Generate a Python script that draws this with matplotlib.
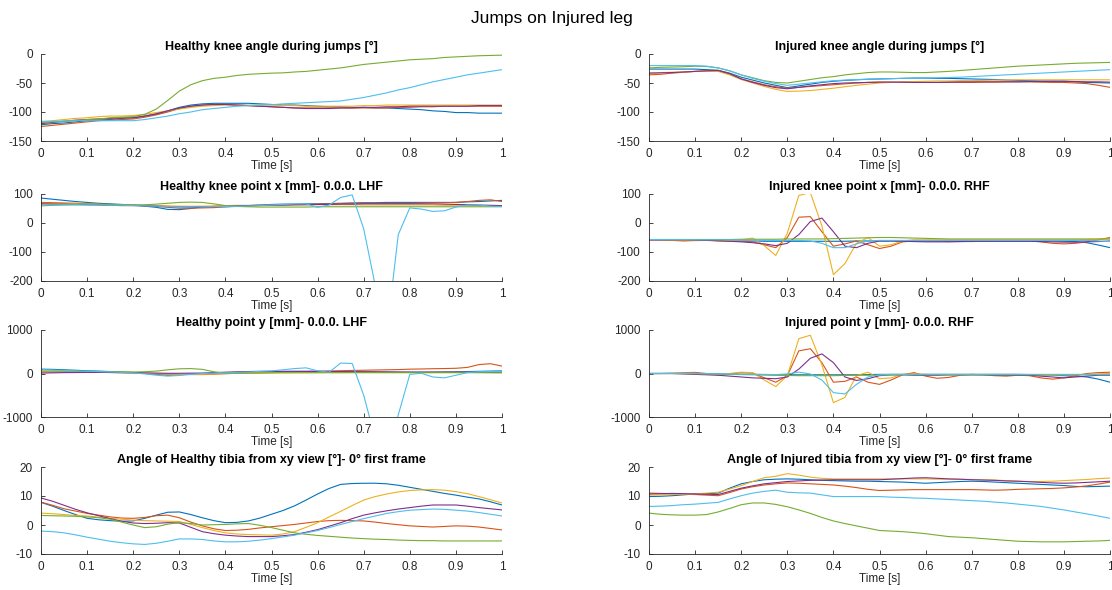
import numpy as np
import matplotlib
matplotlib.use("Agg")
import matplotlib.pyplot as plt

plt.rcParams['font.family'] = ['Liberation Sans', 'DejaVu Sans']
plt.rcParams['axes.unicode_minus'] = False

t = np.linspace(0, 1, 41)

colors = ['#0072BD', '#D95319', '#EDB120', '#7E2F8E', '#77AC30', '#4DBEEE']

# ---- Panel 1: Healthy knee angle ----
hk_blue = [-122,-120,-119,-117,-115,-114,-113,-111,-110,-107,
           -104,-98,-92,-88,-86,-85,-85,-85,-85,-86,
           -87,-88,-88,-89,-90,-91,-91,-92,-92,-93,
           -93,-94,-95,-96,-98,-99,-101,-101,-102,-102,-102]
hk_orange = [-125,-123,-121,-119,-117,-115,-114,-113,-112,-109,
             -105,-100,-94,-90,-88,-87,-87,-88,-89,-90,
             -91,-92,-93,-93,-93,-93,-93,-93,-93,-93,
             -93,-92,-92,-91,-91,-90,-90,-90,-90,-90,-90]
hk_yellow = [-117,-115,-113,-111,-110,-108,-107,-107,-106,-104,
             -101,-98,-95,-92,-90,-89,-88,-88,-88,-88,
             -88,-89,-89,-90,-90,-90,-90,-90,-89,-89,
             -88,-88,-88,-88,-88,-88,-88,-88,-88,-88,-88]
hk_purple = [-120,-118,-116,-114,-113,-112,-111,-110,-110,-107,
             -103,-98,-93,-90,-88,-87,-87,-88,-89,-90,
             -91,-92,-93,-94,-94,-94,-93,-93,-92,-92,
             -91,-91,-90,-90,-90,-90,-90,-90,-89,-89,-89]
hk_green = [-118,-117,-116,-115,-113,-112,-110,-109,-108,-104,
            -95,-80,-64,-53,-46,-42,-40,-37,-35,-34,
            -33,-32.5,-31,-30,-28,-26,-24,-21,-18,-16,
            -14,-12,-10,-9,-8,-6,-5,-4,-3,-2.5,-2]
hk_cyan = [-116,-116,-115.5,-115,-115,-115,-115,-115,-115,-113,
           -110,-107,-103,-100,-96,-94,-92,-90,-89,-88,
           -87.5,-86,-85,-84,-83,-82,-81,-78,-75,-71,
           -67,-62,-58,-53,-48,-44,-40,-36,-33,-30,-27]

# ---- Panel 2: Injured knee angle ----
ik_blue = [-26,-26,-26,-26,-26,-27,-28,-33,-40,-45,
           -50,-54,-58,-55,-52,-49,-47,-45.5,-44.5,-43.5,
           -43,-42.5,-42,-41.5,-41.5,-42,-42,-42.5,-43,-43.5,
           -44,-45,-45.5,-46,-46.5,-47,-47,-48,-49,-49.5,-50]
ik_orange = [-36,-35,-33,-31.5,-30,-29,-28.5,-34,-43,-48,
             -53,-56.5,-59,-57.5,-56,-54.5,-53,-51.5,-50,-49,
             -48.5,-48.5,-49,-49,-49,-49,-49,-49,-49,-48.5,
             -48.5,-48,-48,-48,-48.5,-49,-49,-50,-51,-54,-57.5]
ik_yellow = [-33,-32,-31.5,-31,-30,-29.5,-30,-36,-44,-50,
             -56,-61,-64.5,-64,-63,-61,-59,-56.5,-54,-52,
             -50,-49,-48,-47.5,-47,-46.5,-46.5,-46,-46,-45.5,
             -45,-45,-44.5,-44.5,-44.5,-44.5,-44.5,-44.5,-44.5,-44.5,-44.5]
ik_purple = [-33,-32.5,-32,-31,-30,-29,-28.5,-34,-43,-49,
             -54,-58,-60,-57.5,-55,-53,-51,-50,-49.5,-49,
             -48.5,-48.5,-48.5,-49,-49,-49,-48.5,-48,-48,-48,
             -48,-48,-48,-47.5,-47.5,-47,-47,-47.5,-48,-48,-48.5]
ik_green = [-24,-23,-22.5,-22,-21,-21.5,-24,-29,-36,-41,
            -46,-49,-50,-47,-44,-41,-39,-36,-34,-32,
            -31,-31,-31.5,-32,-32,-31,-30,-28.5,-27,-25.5,
            -24,-22.5,-21,-20,-19,-18,-17,-16,-15.5,-15,-14.5]
ik_cyan = [-20,-20,-20,-20,-20,-21,-24,-29,-36,-42,
           -47,-51,-54,-52,-50,-48,-46,-45,-44,-43.5,
           -43,-42.5,-42,-42,-41.5,-41,-40.5,-40,-39,-38,
           -37,-36,-35,-34,-33,-32,-31,-30,-29,-28,-27]

# ---- Panel 3: Healthy knee point x ----
hx_blue = [86,82,78,74,71,68,66,64,62,58,
           54,47,46,50,56,56,56,58,60,62,
           64,65,65,66,66,67,68,69,70,70,
           71,71,71,71,71,71,71,73,74,76,78]
hx_orange = [71,70,69,68,66,65,64,63,62,60,
             57,54,51,51,52,53,56,57,58,60,
             61,62,63,64,65,66,67,68,68,68,
             68,68,68,69,70,70,71,74,78,80,74]
hx_yellow = [68,67,67,66,65,64,63,62,62,61,
             60,59,58,58,58,59,60,61,61,62,
             62,63,63,63,63,63,63,63,62,62,
             62,62,62,62,62,61,61,61,60,60,60]
hx_purple = [66,65,65,64,63,62,61,60,60,59,
             58,57,56,55,56,57,58,59,60,61,
             62,62,63,63,64,64,65,65,66,66,
             66,66,66,66,66,65,64,63,62,61,60]
hx_green = [59,61,63,64,65,65,64,63,62,63,
            65,68,71,72,71,66,60,57,56,55,
            55,55,55,55,56,56,56,56,56,56,
            56,56,56,56,56,56,56,56,56,56,56]
hx_cyan = [62,62,62,62,62,62,61,61,60,59,
           58,57,56,56,56,57,57,58,59,60,
           62,64,66,66,54,62,88,97,-20,-215,
           -380,-40,52,48,40,42,55,62,62,58,57]

# ---- Panel 4: Injured knee point x ----
ix_blue = [-58,-58,-58,-59,-59,-60,-60,-61,-62,-62,
           -63,-63,-63,-63,-63,-63,-63,-63,-62,-62,
           -62,-62,-62,-62,-62,-62,-62,-62,-62,-62,
           -62,-62,-62,-62,-62,-62,-63,-64,-68,-76,-85]
ix_orange = [-58,-58,-60,-62,-60,-58,-62,-63,-62,-65,
             -75,-85,-50,20,22,-30,-80,-72,-62,-75,
             -88,-80,-65,-62,-62,-63,-64,-64,-64,-63,
             -62,-62,-62,-62,-65,-70,-72,-70,-65,-58,-50]
ix_yellow = [-58,-58,-59,-60,-61,-60,-62,-60,-58,-52,
             -78,-112,-35,95,105,-10,-178,-140,-70,-50,
             -80,-75,-62,-58,-58,-58,-58,-58,-58,-58,
             -58,-58,-58,-58,-58,-58,-58,-58,-57,-56,-55]
ix_purple = [-58,-58,-58,-58,-59,-60,-61,-63,-65,-68,
             -72,-78,-70,-40,5,17,-30,-80,-85,-70,
             -62,-62,-63,-64,-65,-65,-65,-64,-63,-63,
             -63,-63,-63,-63,-64,-65,-66,-66,-65,-64,-62]
ix_green = [-57,-57,-57,-57,-57,-57,-57,-57,-56,-56,
            -56,-56,-55,-55,-55,-55,-54,-53,-52,-51,
            -50,-50,-51,-52,-53,-54,-55,-55,-55,-55,
            -55,-55,-55,-55,-55,-55,-55,-55,-55,-55,-55]
ix_cyan = [-57,-57,-57,-57,-58,-58,-58,-58,-59,-59,
           -60,-60,-60,-60,-62,-70,-85,-85,-72,-62,
           -60,-60,-60,-60,-60,-60,-60,-60,-60,-60,
           -60,-60,-60,-60,-60,-60,-60,-60,-60,-62,-64]

# ---- Panel 5: Healthy point y ----
hy_blue = [100,95,85,75,62,55,45,35,25,5,
           -20,-40,-30,-15,-5,5,10,20,30,35,
           40,45,48,50,50,48,45,42,40,38,
           35,32,30,30,32,35,40,45,50,55,60]
hy_orange = [38,36,34,32,30,26,22,16,10,2,
             -8,-16,-20,-24,-25,-15,-5,5,12,16,
             20,28,36,45,53,58,64,70,75,80,
             85,90,100,104,110,114,120,140,205,225,170]
hy_yellow = [40,38,36,34,32,28,24,18,12,5,
             -5,-12,-18,-22,-20,-10,0,8,12,15,
             18,20,22,22,24,25,25,26,26,26,
             26,26,26,26,26,26,26,28,28,28,28]
hy_purple = [10,15,20,22,25,25,24,22,20,15,
             10,5,5,8,10,20,30,40,45,50,
             50,50,50,48,46,44,42,40,38,36,
             34,32,30,30,30,30,30,28,25,22,20]
hy_green = [60,58,55,52,48,45,42,38,35,40,
            55,85,108,113,95,40,5,5,10,12,
            15,15,15,16,16,17,17,18,18,18,
            18,18,18,18,18,18,18,18,18,18,18]
hy_cyan = [90,80,70,60,53,45,35,25,15,-10,
           -38,-60,-45,-20,0,8,15,25,35,48,
           60,85,113,130,60,30,240,230,-500,-1500,
           -2000,-950,-20,5,-80,-100,-40,20,40,45,50]

# ---- Panel 6: Injured point y ----
iy_blue = [0,0,0,0,-5,-10,-10,-15,-20,-20,
           -25,-30,-30,-30,-30,-30,-30,-30,-30,-25,
           -20,-20,-20,-20,-20,-20,-20,-20,-20,-20,
           -20,-20,-20,-25,-30,-40,-50,-60,-80,-130,-200]
iy_orange = [0,0,5,20,25,0,-30,-10,20,10,
             -100,-200,-50,520,570,250,-200,-180,-80,-200,
             -250,-150,-30,20,-60,-110,-90,-40,-20,-30,
             -50,-60,-40,-50,-100,-130,-100,-50,0,20,30]
iy_yellow = [0,0,5,10,5,-20,-30,0,30,20,
             -150,-300,-50,800,880,200,-670,-550,-50,30,
             -120,-100,-20,-10,-20,-30,-30,-30,-30,-30,
             -30,-30,-30,-40,-50,-40,-30,-30,-20,-10,0]
iy_purple = [0,0,0,-10,-20,-30,-40,-60,-80,-100,
             -110,-120,-80,100,350,450,250,-80,-160,-120,
             -50,-30,-30,-40,-40,-40,-30,-30,-30,-30,
             -40,-40,-40,-40,-60,-80,-100,-80,-60,-40,-40]
iy_green = [0,0,0,0,-5,-10,-15,-20,-25,-30,
            -35,-40,-45,-50,-50,-50,-50,-45,-40,-40,
            -35,-35,-30,-30,-30,-30,-30,-30,-30,-30,
            -30,-30,-30,-30,-30,-30,-30,-30,-30,-30,-30]
iy_cyan = [0,0,0,0,0,-5,-10,-10,-15,-20,
           -20,-25,-10,30,-10,-150,-440,-470,-250,-80,
           -30,-20,-20,-20,-20,-20,-20,-20,-20,-20,
           -20,-20,-20,-20,-20,-20,-20,-20,-20,-20,-20]

# ---- Panel 7: Healthy tibia angle ----
ht_blue = [7.8,6.5,5,3.6,2.3,1.8,1.5,1.3,1.4,2.3,
           3.4,4.4,4.5,3.6,2.5,1.5,0.8,0.9,1.4,2.4,
           3.7,5,6.6,8.6,10.7,12.6,14,14.3,14.4,14.4,
           14.2,13.7,13,12.3,11.6,10.9,10.3,9.6,9,8,6.9]
ht_orange = [7.9,6.8,5.6,4.8,4,3.4,2.8,2.4,2.3,2.6,
             3.2,3.4,2.5,1,-0.3,-1.3,-1.9,-1.8,-1.5,-1,
             -0.6,-0.2,0.2,0.7,1.2,1.5,1.6,1.5,1.4,1,
             0.5,0.1,-0.3,-0.5,-0.7,-0.5,-0.3,-0.4,-0.7,-1.2,-1.7]
ht_yellow = [4.1,3.9,3.6,3.3,3.1,2.7,2.3,2,1.7,1.5,
             1.4,1.3,1.2,0.2,-0.9,-1.9,-2.7,-3.1,-3.3,-3.4,
             -3.5,-3.1,-2.3,-0.8,0.8,2.8,4.7,6.7,8.6,9.8,
             10.7,11.4,11.9,12.1,12.2,12,11.5,10.8,9.8,8.7,7.6]
ht_purple = [9.3,8.2,6.8,5.4,4.2,3.2,2.2,1.3,0.7,0.5,
             0.6,0.8,0.7,-0.8,-2.3,-3,-3.5,-3.8,-4,-4,
             -4,-3.7,-3.3,-2.5,-1.6,-0.4,0.8,2.2,3.4,4.2,
             4.9,5.5,6,6.5,6.9,6.9,6.9,6.5,6,5.6,5.2]
ht_green = [3.3,3.2,3.1,3,2.8,2.5,2,1,0,-0.9,
            -0.6,0.3,0.8,0.5,0,0.1,0.2,0.4,0.5,-0.1,
            -0.9,-1.8,-2.7,-3.2,-3.6,-3.9,-4.2,-4.5,-4.7,-4.9,
            -5,-5.2,-5.3,-5.4,-5.4,-5.5,-5.5,-5.5,-5.5,-5.5,-5.5]
ht_cyan = [-2.1,-2.3,-2.7,-3.4,-4.2,-4.9,-5.6,-6.1,-6.5,-6.7,
           -6.3,-5.6,-4.8,-4.8,-5,-5.5,-5.8,-5.8,-5.6,-5.2,
           -4.7,-4.1,-3.5,-2.7,-1.9,-0.9,0.2,1.2,2.2,3.1,
           4,4.6,5.1,5.3,5.5,5.4,5.1,4.8,4.3,3.7,3.1]

# ---- Panel 8: Injured tibia angle ----
it_blue = [9.8,9.9,10.1,10.4,10.7,10.8,11,12.7,14.2,15,
           15.6,15.8,15.9,15.8,15.6,15.4,15.3,15.2,15.1,15.1,
           15,14.9,14.8,14.6,14.4,14.6,14.8,15,15.1,15,
           14.8,14.6,14.4,14.2,14,13.8,13.6,13.3,13.2,13.3,13.4]
it_orange = [11,10.9,10.8,10.6,10.5,10.3,10.1,11.2,12.4,13.2,
             13.8,14.2,14.5,14.4,14.2,14,13.8,13.4,12.9,12.3,
             11.9,12,12.1,12.2,12.2,12.2,12.2,12.2,12.2,12.1,
             12,12.1,12.3,12.4,12.5,12.6,12.8,13.1,13.5,14.1,14.8]
it_yellow = [10.3,10.4,10.5,10.6,10.7,11,11.3,12.4,13.6,15,
             16.3,16.8,17.7,17.2,16.5,16.1,15.9,15.9,15.9,15.9,
             15.9,15.9,15.9,15.9,15.9,15.8,15.8,15.7,15.7,15.6,
             15.5,15.3,15.1,15,15,15.1,15.3,15.5,15.7,16,16.2]
it_purple = [10.7,10.8,10.9,10.8,10.7,10.6,10.5,11.6,12.7,13.5,
             14.2,14.6,15,15.2,15.4,15.5,15.6,15.6,15.6,15.6,
             15.6,15.8,16,16.2,16.3,16.1,15.9,15.8,15.6,15.5,
             15.4,15.2,15.1,14.9,14.7,14.5,14.4,14.5,14.7,14.9,15.1]
it_green = [4.1,3.7,3.5,3.4,3.4,3.6,4.5,5.7,7,7.6,
            7.6,7.1,6.3,5.2,4,2.6,1.4,0.5,-0.3,-1.1,
            -1.9,-2.1,-2.3,-2.6,-3,-3.5,-4,-4.2,-4.4,-4.7,
            -5,-5.3,-5.6,-5.7,-5.8,-5.8,-5.8,-5.7,-5.6,-5.5,-5.3]
it_cyan = [6.4,6.5,6.7,7,7.2,7.5,7.8,9,10.1,11,
           11.6,12,11.3,11.1,11,10.4,9.8,9.8,9.8,9.8,
           9.8,9.6,9.5,9.3,9.2,9,8.8,8.6,8.4,8.2,
           7.9,7.6,7.2,6.8,6.4,5.8,5.2,4.5,3.8,3.1,2.3]

titles = [
    "Healthy knee angle during jumps [°]",
    "Injured knee angle during jumps [°]",
    "Healthy knee point x [mm]- 0.0.0. LHF",
    "Injured knee point x [mm]- 0.0.0. RHF",
    "Healthy point y [mm]- 0.0.0. LHF",
    "Injured point y [mm]- 0.0.0. RHF",
    "Angle of Healthy tibia from xy view [°]- 0° first frame",
    "Angle of Injured tibia from xy view [°]- 0° first frame",
]
panels = [
    [hk_blue, hk_orange, hk_yellow, hk_purple, hk_green, hk_cyan],
    [ik_blue, ik_orange, ik_yellow, ik_purple, ik_green, ik_cyan],
    [hx_blue, hx_orange, hx_yellow, hx_purple, hx_green, hx_cyan],
    [ix_blue, ix_orange, ix_yellow, ix_purple, ix_green, ix_cyan],
    [hy_blue, hy_orange, hy_yellow, hy_purple, hy_green, hy_cyan],
    [iy_blue, iy_orange, iy_yellow, iy_purple, iy_green, iy_cyan],
    [ht_blue, ht_orange, ht_yellow, ht_purple, ht_green, ht_cyan],
    [it_blue, it_orange, it_yellow, it_purple, it_green, it_cyan],
]
ylims = [(-150, 0), (-150, 0), (-200, 100), (-200, 100),
         (-1000, 1000), (-1000, 1000), (-10, 20), (-10, 20)]
yticks = [[-150, -100, -50, 0], [-150, -100, -50, 0],
          [-200, -100, 0, 100], [-200, -100, 0, 100],
          [-1000, 0, 1000], [-1000, 0, 1000],
          [-10, 0, 10, 20], [-10, 0, 10, 20]]
xticks = [0, 0.1, 0.2, 0.3, 0.4, 0.5, 0.6, 0.7, 0.8, 0.9, 1]
xticklabels = ["0", "0.1", "0.2", "0.3", "0.4", "0.5", "0.6", "0.7", "0.8", "0.9", "1"]

W, H = 1112, 590
fig = plt.figure(figsize=(W / 100, H / 100), dpi=100)
lefts = [41, 649]
tops = [54, 194, 330, 467]
ax_w = 461
ax_h = 87
axc = (0.15, 0.15, 0.15)

for i in range(8):
    r, c = divmod(i, 2)
    x0 = lefts[c]
    y0 = tops[r] + ax_h
    ax = fig.add_axes([x0 / W, 1 - y0 / H, ax_w / W, ax_h / H])
    for s, col in zip(panels[i], colors):
        ax.plot(t, s, color=col, lw=0.8)
    ax.set_xlim(0, 1)
    ax.set_ylim(*ylims[i])
    ax.set_xticks(xticks)
    ax.set_xticklabels(xticklabels)
    ax.set_yticks(yticks[i])
    ax.spines['top'].set_visible(False)
    ax.spines['right'].set_visible(False)
    for sp in ('left', 'bottom'):
        ax.spines[sp].set_color(axc)
        ax.spines[sp].set_linewidth(0.6)
    ax.tick_params(direction='in', length=3, width=0.6, colors=axc,
                   labelsize=8.5)
    ax.tick_params(axis='y', pad=6)
    ax.tick_params(axis='x', pad=5)
    ax.set_xlabel("Time [s]", fontsize=8.5, color=axc, labelpad=0)
    ax.set_title(titles[i], fontsize=9, fontweight='bold', pad=3)

fig.text(552 / W, 1 - 18 / H, "Jumps on Injured leg", ha='center', va='center',
         fontsize=12.5)

fig.savefig("out.png", dpi=100)
